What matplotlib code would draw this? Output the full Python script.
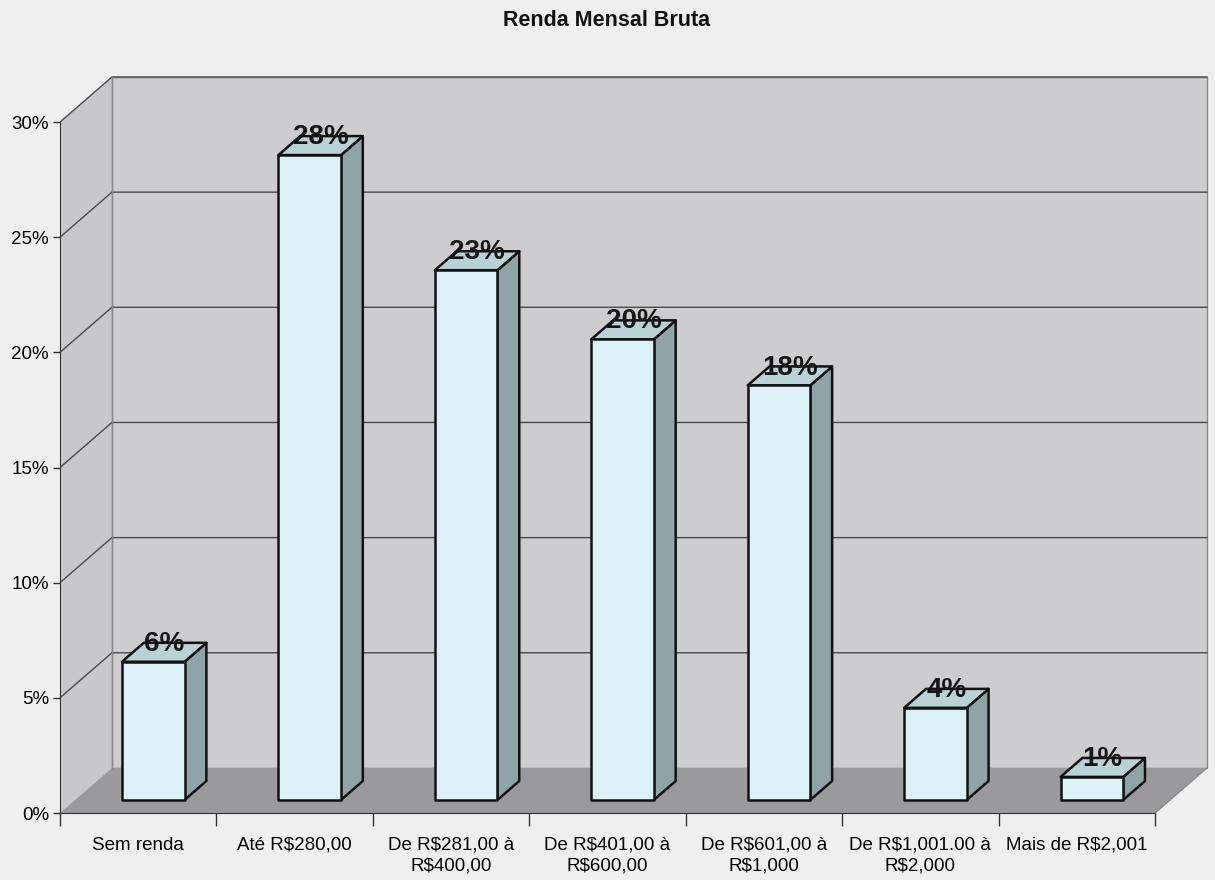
#!/usr/bin/env python3
"""Renda Mensal Bruta - pseudo 3D column chart."""

import matplotlib
matplotlib.use("Agg")
import matplotlib.pyplot as plt
from matplotlib.patches import Polygon

categories = [
    "Sem renda",
    "Até R$280,00",
    "De R$281,00 à\nR$400,00",
    "De R$401,00 à\nR$600,00",
    "De R$601,00 à\nR$1,000",
    "De R$1,001.00 à\nR$2,000",
    "Mais de R$2,001",
]
values = [6, 28, 23, 20, 18, 4, 1]
labels = ["6%", "28%", "23%", "20%", "18%", "4%", "1%"]
y_ticks = [0, 5, 10, 15, 20, 25, 30]

# depth projection (data units): full depth of the floor
DX, DY = 0.332, 1.957
BAR_D0, BAR_D1 = 0.29, 0.71   # bar front / back depth fraction
BAR_W = 0.40
YMAX = 30

plt.rcParams['font.family'] = ['Liberation Sans', 'DejaVu Sans']

fig = plt.figure(figsize=(12.15, 8.8), dpi=100)
fig.patch.set_facecolor("#efefef")
ax = fig.add_axes([60 / 1215, 67 / 880, 1152 / 1215, 743 / 880])
ax.set_facecolor("none")
n = len(categories)
ax.set_xlim(0, 7.364)
ax.set_ylim(0, 32.26)


def proj(x, y, d):
    return (x + d * DX, y + d * DY)


# walls and floor
left_wall = Polygon([proj(0, 0, 0), proj(0, YMAX, 0), proj(0, YMAX, 1), proj(0, 0, 1)],
                    closed=True, facecolor="#c8c8ca", edgecolor="none", zorder=1)
back_wall = Polygon([proj(0, 0, 1), proj(0, YMAX, 1), proj(n, YMAX, 1), proj(n, 0, 1)],
                    closed=True, facecolor="#cdcdcf", edgecolor="#8a8a8a", lw=1, zorder=1)
floor = Polygon([proj(0, 0, 0), proj(n, 0, 0), proj(n, 0, 1), proj(0, 0, 1)],
                closed=True, facecolor="#9a9a9c", edgecolor="none", zorder=2)
for p in (left_wall, back_wall, floor):
    ax.add_patch(p)

# gridlines on back wall and left wall
for t in y_ticks[1:]:
    x0, y0 = proj(0, t, 0)
    x1, y1 = proj(0, t, 1)
    x2, y2 = proj(n, t, 1)
    ax.plot([x0, x1, x2], [y0, y1, y2], color="#4a4a4a", lw=1, zorder=3)

# floor right edge and back wall left edge
fx0, fy0 = proj(n, 0, 0)
fx1, fy1 = proj(n, 0, 1)
ax.plot([fx0, fx1], [fy0, fy1], color="#8a8a8a", lw=1, zorder=3)
bx0, by0 = proj(0, 0, 1)
bx1, by1 = proj(0, YMAX, 1)
ax.plot([bx0, bx1], [by0, by1], color="#8a8a8a", lw=1, zorder=3)

# bars
for i, (v, lab) in enumerate(zip(values, labels)):
    cx = i + 0.5
    xl, xr = cx - BAR_W / 2, cx + BAR_W / 2
    front = [proj(xl, 0, BAR_D0), proj(xl, v, BAR_D0), proj(xr, v, BAR_D0), proj(xr, 0, BAR_D0)]
    side = [proj(xr, 0, BAR_D0), proj(xr, v, BAR_D0), proj(xr, v, BAR_D1), proj(xr, 0, BAR_D1)]
    top = [proj(xl, v, BAR_D0), proj(xr, v, BAR_D0), proj(xr, v, BAR_D1), proj(xl, v, BAR_D1)]
    for pts, col in ((side, "#8fa4a7"), (top, "#b9d2d6"), (front, "#ddf2f6")):
        ax.add_patch(Polygon(pts, closed=True, facecolor=col, edgecolor="#111111",
                             lw=1.8, joinstyle="round", zorder=4))
    tx, ty = proj(cx, v, (BAR_D0 + BAR_D1) / 2)
    ax.annotate(lab, (tx, ty), xytext=(0, 6), textcoords="offset points",
                ha="center", va="center", fontsize=20, fontweight="bold",
                color="#151515", zorder=6)

# axes
for s in ("top", "right"):
    ax.spines[s].set_visible(False)
ax.spines["left"].set_bounds(0, YMAX)
ax.spines["bottom"].set_bounds(0, n)
ax.spines["left"].set_color("#333333")
ax.spines["bottom"].set_color("#333333")
ax.spines["left"].set_zorder(5)
ax.spines["bottom"].set_zorder(5)

ax.set_yticks(y_ticks)
ax.set_yticklabels([f"{t}%" for t in y_ticks])
ax.tick_params(axis="y", length=5, width=1, color="#333333", pad=3, labelsize=13.5)

ax.set_xticks(range(n + 1))
ax.set_xticklabels([])
ax.set_xticks([i + 0.5 for i in range(n)], minor=True)
ax.set_xticklabels(categories, minor=True, linespacing=1.3)
ax.tick_params(axis="x", which="major", length=9, width=1, color="#333333")
ax.tick_params(axis="x", which="minor", length=0, pad=17, labelsize=13.5)

fig.text(0.499, 0.989, "Renda Mensal Bruta", ha="center", va="top",
         fontsize=15.5, fontweight="bold", color="#111111")

fig.savefig("out.png", dpi=100, facecolor=fig.get_facecolor())
plt.close(fig)
